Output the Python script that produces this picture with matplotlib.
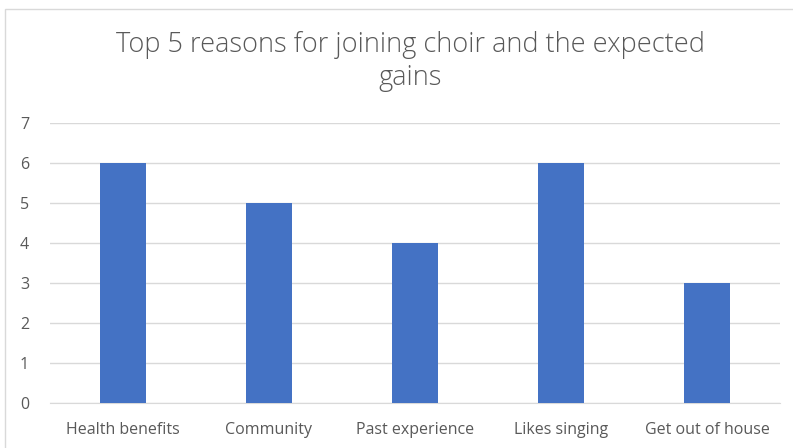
import matplotlib

matplotlib.use("Agg")
import matplotlib.pyplot as plt
from matplotlib.patches import Rectangle

categories = ["Health benefits", "Community", "Past experience", "Likes singing", "Get out of house"]
counts = [6, 5, 4, 6, 3]
yticks = [0, 1, 2, 3, 4, 5, 6, 7]

GRAY = "#595959"
plt.rcParams["font.family"] = ["Open Sans", "DejaVu Sans"]

fig = plt.figure(figsize=(7.93, 4.48), dpi=100)
ax = fig.add_axes([0.063, 0.1004, 0.9206, 0.625])

# chart frame, running off the right and bottom edges
fig.patches.append(Rectangle((5 / 793, -0.05), 1.0, 1 - 9 / 448 + 0.05,
                             transform=fig.transFigure, fill=False,
                             edgecolor="#d9d9d9", lw=1.0))

x = range(len(categories))
ax.bar(x, counts, width=0.315, color="#4472c4", zorder=3)
ax.set_xlim(-0.5, len(categories) - 0.5)
ax.set_ylim(0, 7)
ax.set_yticks(yticks)
ax.set_xticks(list(x))
ax.set_xticklabels(categories)
ax.grid(True, axis="y", color="#d9d9d9", lw=1.0, zorder=0)
for side in ["top", "right", "left"]:
    ax.spines[side].set_visible(False)
ax.spines["bottom"].set_color("#d9d9d9")
ax.tick_params(length=0, colors=GRAY, labelsize=11.5)
ax.tick_params(axis="x", pad=14)
ax.tick_params(axis="y", pad=15)

fig.text(0.517, 0.862, "Top 5 reasons for joining choir and the expected\ngains",
         ha="center", va="center", fontsize=19.5, color=GRAY,
         linespacing=1.25, fontweight="light")

fig.savefig("out.png", dpi=100)
